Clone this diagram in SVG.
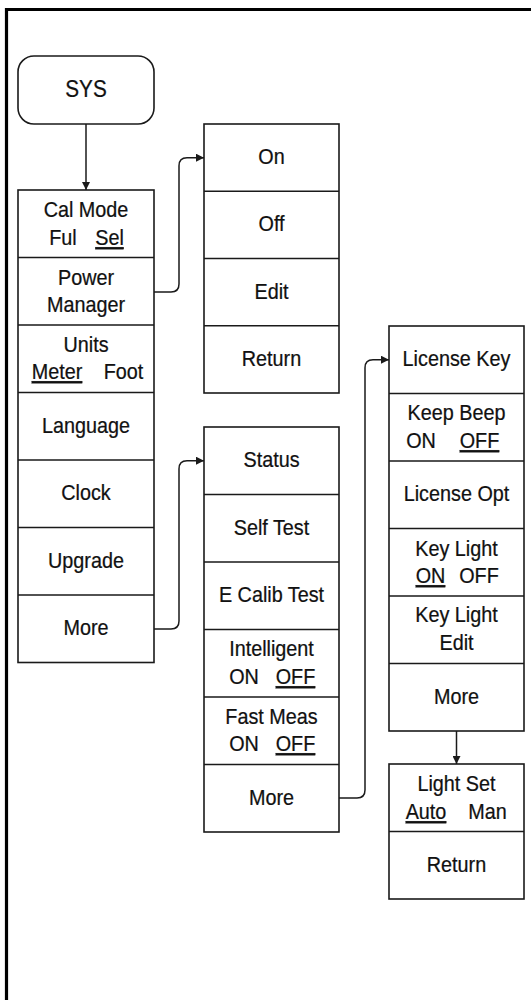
<svg xmlns="http://www.w3.org/2000/svg" width="531" height="1000" viewBox="0 0 531 1000">
<style>
.box{fill:#fff;stroke:#1a1a1a;stroke-width:1.6}
.div{stroke:#1a1a1a;stroke-width:1.6}
.t{font-family:"Liberation Sans",Arial,sans-serif;font-size:22px;fill:#111;stroke:#111;stroke-width:0.25;text-anchor:middle}
.u{text-decoration:underline}
.con{fill:none;stroke:#1a1a1a;stroke-width:1.5}
.frame{fill:none;stroke:#000;stroke-width:3.2}
</style>
<defs>
<marker id="ah" viewBox="0 0 10 10" refX="10" refY="5" markerWidth="8" markerHeight="8" markerUnits="userSpaceOnUse" orient="auto">
<path d="M0,0 L10,5 L0,10 z" fill="#1a1a1a"/>
</marker>
</defs>
<rect width="531" height="1000" fill="#fff"/>
<path class="frame" d="M6.5,1000 V9.5 H531"/>

<g id="sys">
<rect class="box" x="18" y="56" width="136" height="68" rx="16"/>
<text class="t" transform="translate(86,97) scale(0.9,1)" style="font-size:23px">SYS</text>
</g>

<g id="menu1">
<rect class="box" x="18" y="190" width="136" height="472.5"/>
<path class="div" d="M18,257.5H154M18,325H154M18,392.5H154M18,460H154M18,527.5H154M18,595H154"/>
<text class="t" transform="translate(86,217) scale(0.9,1)">Cal Mode</text>
<text class="t" transform="translate(63,245) scale(0.9,1)">Ful</text>
<text class="t u" transform="translate(109.5,245) scale(0.9,1)">Sel</text>
<text class="t" transform="translate(86,285) scale(0.9,1)">Power</text>
<text class="t" transform="translate(86,312) scale(0.9,1)">Manager</text>
<text class="t" transform="translate(86,352) scale(0.9,1)">Units</text>
<text class="t u" transform="translate(57,379) scale(0.9,1)">Meter</text>
<text class="t" transform="translate(123.5,379) scale(0.9,1)">Foot</text>
<text class="t" transform="translate(86,433) scale(0.9,1)">Language</text>
<text class="t" transform="translate(86,500) scale(0.9,1)">Clock</text>
<text class="t" transform="translate(86,568) scale(0.9,1)">Upgrade</text>
<text class="t" transform="translate(86,635) scale(0.9,1)">More</text>
</g>

<g id="menu2">
<rect class="box" x="204" y="124" width="135" height="269"/>
<path class="div" d="M204,191.2H339M204,258.5H339M204,325.7H339"/>
<text class="t" transform="translate(271.5,164) scale(0.9,1)">On</text>
<text class="t" transform="translate(271.5,231) scale(0.9,1)">Off</text>
<text class="t" transform="translate(271.5,299) scale(0.9,1)">Edit</text>
<text class="t" transform="translate(271.5,366) scale(0.9,1)">Return</text>
</g>

<g id="menu3">
<rect class="box" x="204" y="427" width="135" height="405"/>
<path class="div" d="M204,494.5H339M204,562H339M204,629.5H339M204,697H339M204,764.5H339"/>
<text class="t" transform="translate(271.5,467) scale(0.9,1)">Status</text>
<text class="t" transform="translate(271.5,535) scale(0.9,1)">Self Test</text>
<text class="t" transform="translate(271.5,602) scale(0.9,1)">E Calib Test</text>
<text class="t" transform="translate(271.5,656) scale(0.9,1)">Intelligent</text>
<text class="t" transform="translate(244,684) scale(0.9,1)">ON</text>
<text class="t u" transform="translate(295.5,684) scale(0.9,1)">OFF</text>
<text class="t" transform="translate(271.5,724) scale(0.9,1)">Fast Meas</text>
<text class="t" transform="translate(244,751) scale(0.9,1)">ON</text>
<text class="t u" transform="translate(295.5,751) scale(0.9,1)">OFF</text>
<text class="t" transform="translate(271.5,805) scale(0.9,1)">More</text>
</g>

<g id="menu4">
<rect class="box" x="389" y="326" width="135" height="405"/>
<path class="div" d="M389,393.5H524M389,461H524M389,528.5H524M389,596H524M389,663.5H524"/>
<text class="t" transform="translate(456.5,366) scale(0.9,1)">License Key</text>
<text class="t" transform="translate(456.5,420) scale(0.9,1)">Keep Beep</text>
<text class="t" transform="translate(421,448) scale(0.9,1)">ON</text>
<text class="t u" transform="translate(479.5,448) scale(0.9,1)">OFF</text>
<text class="t" transform="translate(456.5,501) scale(0.9,1)">License Opt</text>
<text class="t" transform="translate(456.5,556) scale(0.9,1)">Key Light</text>
<text class="t u" transform="translate(430.5,583) scale(0.9,1)">ON</text>
<text class="t" transform="translate(479,583) scale(0.9,1)">OFF</text>
<text class="t" transform="translate(456.5,622) scale(0.9,1)">Key Light</text>
<text class="t" transform="translate(456.5,650) scale(0.9,1)">Edit</text>
<text class="t" transform="translate(456.5,704) scale(0.9,1)">More</text>
</g>

<g id="menu5">
<rect class="box" x="389" y="764" width="135" height="135"/>
<path class="div" d="M389,831.5H524"/>
<text class="t" transform="translate(456.5,791) scale(0.9,1)">Light Set</text>
<text class="t u" transform="translate(426,819) scale(0.9,1)">Auto</text>
<text class="t" transform="translate(487.5,819) scale(0.9,1)">Man</text>
<text class="t" transform="translate(456.5,872) scale(0.9,1)">Return</text>
</g>

<g id="connectors">
<path class="con" marker-end="url(#ah)" d="M86,124V190"/>
<path class="con" marker-end="url(#ah)" d="M154,292H171Q179,292 179,284V165.7Q179,157.7 187,157.7H204"/>
<path class="con" marker-end="url(#ah)" d="M154,629H171Q179,629 179,621V468.7Q179,460.7 187,460.7H204"/>
<path class="con" marker-end="url(#ah)" d="M339,798H357Q365,798 365,790V367.7Q365,359.7 373,359.7H389"/>
<path class="con" marker-end="url(#ah)" d="M456.5,731V764"/>
</g>
</svg>
